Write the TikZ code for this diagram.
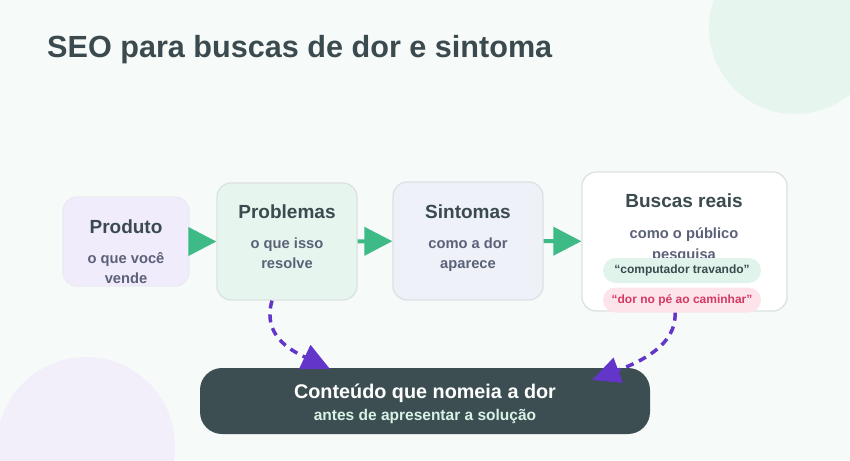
\documentclass[tikz,border=0pt]{standalone}
\usepackage{fontspec}
\setmainfont{Liberation Sans}
\usetikzlibrary{arrows.meta}
\definecolor{bgc}{HTML}{F6FAF9}
\definecolor{ink}{HTML}{3B4A4E}
\definecolor{subc}{HTML}{5B6178}
\definecolor{flowc}{HTML}{3DBA86}
\definecolor{linkc}{HTML}{6435C9}
\definecolor{lavc}{HTML}{F1ECFC}
\definecolor{mintc}{HTML}{E6F6EE}
\definecolor{greyc}{HTML}{EEF1F8}
\definecolor{edgec}{HTML}{DCE1E1}
\definecolor{pinkc}{HTML}{FDE3EA}
\definecolor{redc}{HTML}{D43A62}
\definecolor{darkc}{HTML}{3C4E51}
\definecolor{palec}{HTML}{D8F3E6}
\begin{document}
\begin{tikzpicture}[x=1pt,y=-1pt,
    box/.style={draw=edgec, rounded corners=14pt, line width=1.3pt, inner sep=0pt},
    head/.style={anchor=base, inner sep=0pt, text=ink, font=\fontsize{19}{22}\selectfont\bfseries},
    sub/.style={anchor=base, inner sep=0pt, text=subc, font=\fontsize{14.7}{17}\selectfont\bfseries},
    pill/.style={rounded corners=12.5pt, minimum width=158pt, minimum height=25pt, inner sep=0pt,
                 font=\fontsize{12}{14}\selectfont\bfseries},
    flow/.style={line width=4pt, draw=flowc, -{Triangle[length=28pt,width=28pt]}},
    link/.style={line width=3.5pt, draw=linkc, dash pattern=on 8pt off 6pt,
                 -{Triangle[length=28pt,width=26pt]}}]

  % background
  \useasboundingbox (0,0) rectangle (850,460);
  \clip (0,0) rectangle (850,460);
  \fill[bgc] (0,0) rectangle (850,460);
  \fill[mintc] (795,28) circle (86);
  \fill[lavc!80!bgc] (86,446) circle (89);

  \node[anchor=base west, inner sep=0pt, text=ink, font=\fontsize{30.6}{34}\selectfont\bfseries]
        (title) at (47,58) {SEO para buscas de dor e sintoma};

  % the four steps
  \node[box, draw=lavc!70!edgec, fill=lavc, minimum width=126pt, minimum height=89pt] (prod) at (126,241.5) {};
  \node[head] (prodT) at (126,233) {Produto};
  \node[sub]  (prodA) at (126,263) {o que você};
  \node[sub]  (prodB) at (126,283) {vende};

  \node[box, fill=mintc, minimum width=140pt, minimum height=117pt] (prob) at (287,241.5) {};
  \node[head] (probT) at (287,218) {Problemas};
  \node[sub]  (probA) at (287,248) {o que isso};
  \node[sub]  (probB) at (287,268) {resolve};

  \node[box, fill=greyc, minimum width=150pt, minimum height=118pt] (sint) at (468,241) {};
  \node[head] (sintT) at (468,218) {Sintomas};
  \node[sub]  (sintA) at (468,248) {como a dor};
  \node[sub]  (sintB) at (468,268) {aparece};

  \node[box, fill=white, minimum width=205pt, minimum height=139pt] (busc) at (684.5,241.5) {};
  \node[head] (buscT) at (684,207) {Buscas reais};
  \node[sub]  (buscA) at (684,238) {como o público};
  \node[sub]  (buscB) at (684,259) {pesquisa};
  \node[pill, fill=mintc!85!flowc!60!white, text=ink] (pill1) at (682,270.5) {“computador travando”};
  \node[pill, fill=pinkc, text=redc] (pill2) at (682,300) {“dor no pé ao caminhar”};

  % result
  \node[fill=darkc, rounded corners=22pt, minimum width=450pt, minimum height=66pt, inner sep=0pt]
        (cont) at (425,401) {};
  \node[anchor=base, inner sep=0pt, text=white, font=\fontsize{19.8}{23}\selectfont\bfseries]
        (contT) at (425,398) {Conteúdo que nomeia a dor};
  \node[anchor=base, inner sep=0pt, text=palec, font=\fontsize{15.5}{18}\selectfont\bfseries]
        (contS) at (425,420) {antes de apresentar a solução};

  \draw[flow] (prod) -- (prob);
  \draw[flow] (prob) -- (sint);
  \draw[flow] (sint) -- (busc);

  \coordinate (s1) at ([xshift=-15pt]prob.south);
  \coordinate (e1) at (330,369);
  \coordinate (s2) at ([xshift=-7pt]pill2.south);
  \coordinate (e2) at (592,380);
  \draw[link] (s1) .. controls (262,335) and (290,350) .. (e1);
  \draw[link] (s2) .. controls (677,345) and (640,362) .. (e2);
\end{tikzpicture}
\end{document}
